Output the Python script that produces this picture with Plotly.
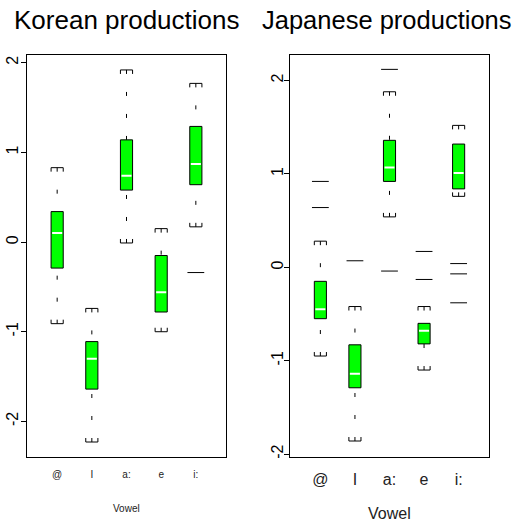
import plotly.graph_objects as go

# Vowel categories on the x axis
vowels = ["@", "I", "a:", "e", "i:"]

# Korean productions: five-number summaries per vowel
kor_low = [-0.91, -2.23, -0.01, -1.00, 0.17]
kor_q1 = [-0.29, -1.64, 0.58, -0.78, 0.64]
kor_med = [0.10, -1.30, 0.74, -0.56, 0.87]
kor_q3 = [0.34, -1.11, 1.14, -0.15, 1.29]
kor_high = [0.83, -0.74, 1.92, 0.15, 1.77]
kor_out_vowel = ["i:"]
kor_out_val = [-0.34]

# Japanese productions: five-number summaries per vowel
jpn_low = [-0.95, -1.86, 0.54, -1.10, 0.76]
jpn_q1 = [-0.55, -1.29, 0.92, -0.82, 0.84]
jpn_med = [-0.45, -1.14, 1.07, -0.68, 1.01]
jpn_q3 = [-0.15, -0.83, 1.36, -0.60, 1.32]
jpn_high = [0.28, -0.42, 1.88, -0.42, 1.52]
jpn_out_vowel = ["@", "@", "I", "a:", "a:", "e", "e", "i:", "i:", "i:"]
jpn_out_val = [0.92, 0.64, 0.07, 2.12, -0.04, 0.17, -0.13, 0.04, -0.07, -0.38]

y_ticks = [-2, -1, 0, 1, 2]

W, H = 514, 525
FONT = "Liberation Sans, Arial, sans-serif"
GREEN = "#00ff00"
HALF_W = 0.175
X_RANGE = [0.13, 5.87]
Y_DOMAIN = [(H - 459) / H, (H - 55) / H]

panels = [
    dict(name="Korean productions", xa="x", ya="y", xdom=[27 / W, 226 / W],
         yrange=[-2.4, 2.089], low=kor_low, q1=kor_q1, med=kor_med, q3=kor_q3,
         high=kor_high, out_v=kor_out_vowel, out_y=kor_out_val,
         xfont=10, xlab_y=510, tsize=26, tx=None, ystand=-3),
    dict(name="Japanese productions", xa="x2", ya="y2", xdom=[290.3 / W, 488.7 / W],
         yrange=[-2.034, 2.276], low=jpn_low, q1=jpn_q1, med=jpn_med, q3=jpn_q3,
         high=jpn_high, out_v=jpn_out_vowel, out_y=jpn_out_val,
         xfont=16, xlab_y=515, tsize=25.5, tx=260 / W, ystand=-5),
]

fig = go.Figure()
layout_axes = {}
annotations = []

for k, p in enumerate(panels):
    xa, ya = p["xa"], p["ya"]
    pos = list(range(1, len(vowels) + 1))
    plot_h = (Y_DOMAIN[1] - Y_DOMAIN[0]) * H
    px_per_unit = plot_h / (p["yrange"][1] - p["yrange"][0])
    tick = 4 / px_per_unit

    # whiskers: dashed, drawn from the whisker end back to the box
    for x, lo, q1, q3, hi in zip(pos, p["low"], p["q1"], p["q3"], p["high"]):
        for a, b in ((lo, q1), (hi, q3)):
            fig.add_trace(go.Scatter(
                x=[x, x], y=[a, b], mode="lines", xaxis=xa, yaxis=ya,
                line=dict(color="black", width=1, dash="4px,18px"),
                hoverinfo="skip", showlegend=False))

    # staples with small end ticks pointing toward the box
    sx, sy = [], []
    for x, lo, hi in zip(pos, p["low"], p["high"]):
        for v, d in ((lo, tick), (hi, -tick)):
            sx += [x - HALF_W, x - HALF_W, x + HALF_W, x + HALF_W, None]
            sy += [v + d, v, v, v + d, None]
    fig.add_trace(go.Scatter(x=sx, y=sy, mode="lines", xaxis=xa, yaxis=ya,
                             line=dict(color="black", width=1),
                             hoverinfo="skip", showlegend=False))

    # boxes
    bx, by = [], []
    for x, q1, q3 in zip(pos, p["q1"], p["q3"]):
        bx += [x - HALF_W, x + HALF_W, x + HALF_W, x - HALF_W, x - HALF_W, None]
        by += [q1, q1, q3, q3, q1, None]
    fig.add_trace(go.Scatter(x=bx, y=by, mode="lines", fill="toself",
                             fillcolor=GREEN, xaxis=xa, yaxis=ya,
                             line=dict(color="black", width=1),
                             hoverinfo="skip", showlegend=False))

    # medians
    mx, my = [], []
    for x, m in zip(pos, p["med"]):
        mx += [x - HALF_W + 0.03, x + HALF_W - 0.03, None]
        my += [m, m, None]
    fig.add_trace(go.Scatter(x=mx, y=my, mode="lines", xaxis=xa, yaxis=ya,
                             line=dict(color="white", width=2),
                             hoverinfo="skip", showlegend=False))

    # outliers drawn as short horizontal dashes
    ox = [vowels.index(v) + 1 for v in p["out_v"]]
    fig.add_trace(go.Scatter(x=ox, y=p["out_y"], mode="markers", xaxis=xa, yaxis=ya,
                             marker=dict(symbol="line-ew-open", size=12, color="black",
                                         line=dict(color="black", width=1)),
                             hoverinfo="skip", showlegend=False))

    xkey = "xaxis" if k == 0 else "xaxis2"
    ykey = "yaxis" if k == 0 else "yaxis2"
    layout_axes[xkey] = dict(
        domain=p["xdom"], range=X_RANGE, anchor=ya,
        tickvals=pos, ticktext=vowels, ticks="", showgrid=False, zeroline=False,
        showline=True, mirror=True, linecolor="black", linewidth=1,
        tickfont=dict(family=FONT, size=p["xfont"], color="#222"),
        ticklabelstandoff=8)
    layout_axes[ykey] = dict(
        domain=Y_DOMAIN, range=p["yrange"], anchor=xa,
        tickvals=y_ticks, ticktext=[str(t) for t in y_ticks],
        ticks="outside", ticklen=5, tickcolor="black", tickangle=-90,
        ticklabelstandoff=p["ystand"],
        showgrid=False, zeroline=False, showline=True, mirror=True,
        linecolor="black", linewidth=1,
        tickfont=dict(family=FONT, size=16, color="black"))

    cx = (p["xdom"][0] + p["xdom"][1]) / 2
    if p["tx"] is None:
        tx, tanchor = cx, "center"
    else:
        tx, tanchor = p["tx"], "left"
    annotations.append(dict(text=p["name"], x=tx, y=1 - 20 / H, xref="paper", yref="paper",
                            xanchor=tanchor, yanchor="middle", showarrow=False,
                            font=dict(family=FONT, size=p["tsize"], color="black")))
    annotations.append(dict(text="Vowel", x=cx, y=1 - p["xlab_y"] / H, xref="paper",
                            yref="paper", xanchor="center", yanchor="middle",
                            showarrow=False,
                            font=dict(family=FONT, size=p["xfont"], color="#222")))

fig.update_layout(
    width=W, height=H, margin=dict(l=0, r=0, t=0, b=0),
    paper_bgcolor="white", plot_bgcolor="white",
    showlegend=False, annotations=annotations, **layout_axes)

fig.write_html("out.html")
